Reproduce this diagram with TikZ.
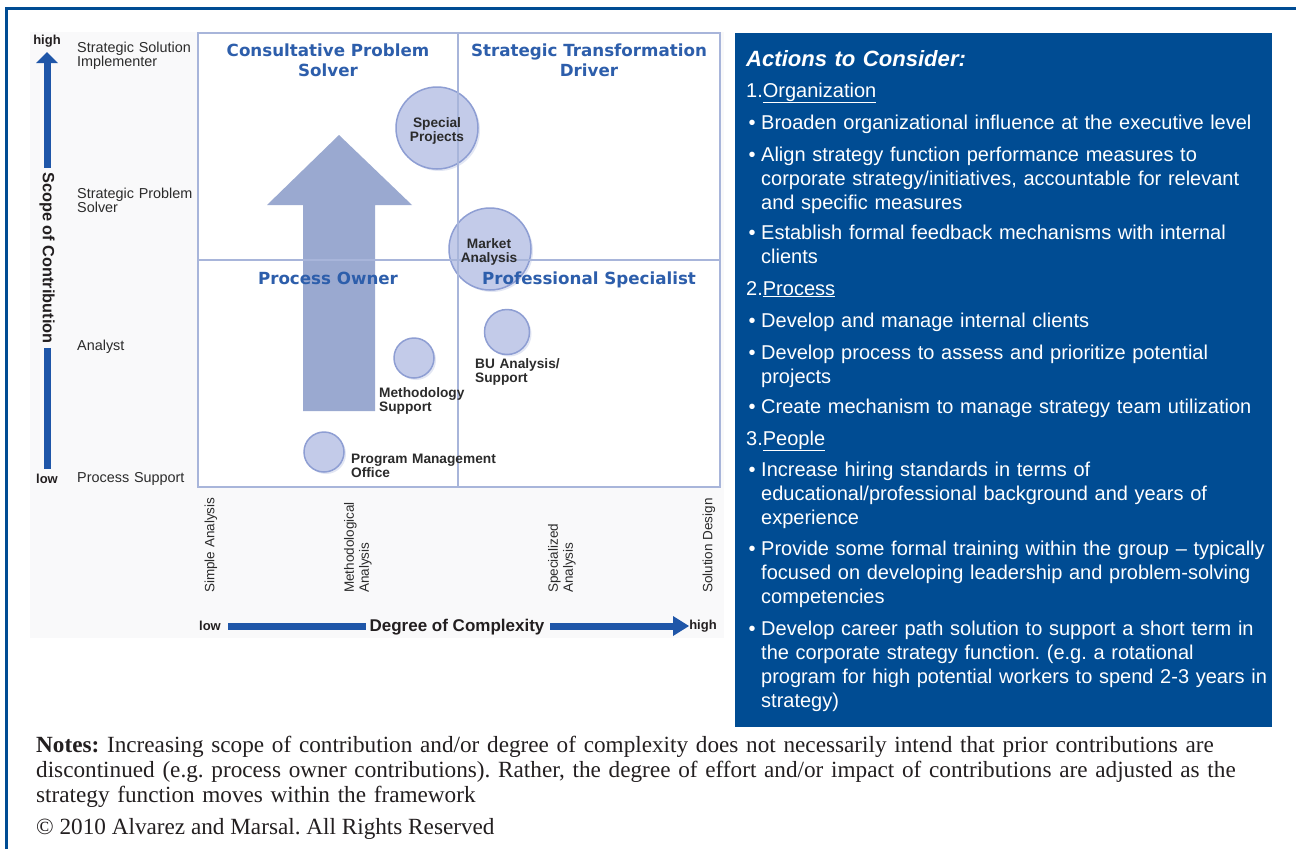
\documentclass[tikz,border=0pt]{standalone}
\usepackage{fontspec}
\setmainfont{Liberation Sans}
\newfontfamily\verd{DejaVu Sans}
\newfontfamily\tms{Liberation Serif}
\usetikzlibrary{shadows}
\definecolor{panel}{HTML}{004C93}
\definecolor{axisblue}{HTML}{1F56A8}
\definecolor{quadblue}{HTML}{2D5EAB}
\definecolor{gridc}{HTML}{A8B5DA}
\definecolor{bigarrow}{HTML}{9AA9D0}
\definecolor{bubfill}{HTML}{C3CBE9}
\definecolor{bubedge}{HTML}{8E9ED3}
\definecolor{txtgray}{HTML}{2B2B2B}
\definecolor{chartbg}{HTML}{F9F9FA}
\definecolor{notec}{HTML}{231F20}
\frenchspacing
\begin{document}
\begin{tikzpicture}[x=1pt,y=-1pt,
  lvl/.style={font=\fontsize{14.4}{14}\selectfont, text=txtgray, align=left, text width=130pt, anchor=base west, inner sep=0},
  quad/.style={font=\verd\bfseries\fontsize{16.7}{20}\selectfont, text=quadblue, align=center, inner sep=0},
  bubble/.style={circle, fill=bubfill, draw=bubedge, line width=1.5pt, inner sep=0,
     drop shadow={shadow xshift=2pt, shadow yshift=-2pt, opacity=0.25, fill=bubedge}},
  blab/.style={font=\bfseries\fontsize{13.7}{14}\selectfont, text=txtgray, align=left, inner sep=0},
  xlab/.style={font=\fontsize{13.5}{15}\selectfont, text=txtgray, rotate=90, anchor=west, align=left, inner sep=0},
  axl/.style={font=\bfseries\fontsize{13}{14}\selectfont, text=notec, inner sep=0},
  act/.style={font=\fontsize{20}{24}\selectfont\frenchspacing, text=white, align=left, text width=525pt, anchor=base west, inner sep=0},
  bul/.style={font=\fontsize{20}{24}\selectfont, text=white, anchor=base, inner sep=0},
  gridline/.style={draw=gridc, line width=2pt}
]
\useasboundingbox (0,0) rectangle (1296,849);
\fill[white] (0,0) rectangle (1296,849);
% outer frame
\draw[panel, line width=2.7pt] (6.5,849) -- (6.5,8.5) -- (1296,8.5);
% chart background
\fill[chartbg] (30,32) rectangle (724,638);
\fill[white] (198,33) rectangle (720,487);
% big arrow
\fill[bigarrow] (303,411) -- (303,205) -- (267,205) -- (339,135) -- (412,205) -- (375,205) -- (375,411) -- cycle;
% bubbles
\node[bubble, minimum size=82pt] (sp) at (437,128) {};
\node[bubble, minimum size=82pt] (ma) at (490,249) {};
\node[bubble, minimum size=45pt] (bu) at (507,332) {};
\node[bubble, minimum size=40pt] (ms) at (414,358) {};
\node[bubble, minimum size=40pt] (pm) at (324,452) {};
% grid
\draw[gridline] (198,33) rectangle (720,487);
\draw[gridline] (458,33) -- (458,487);
\draw[gridline] (198,260) -- (720,260);
% quadrant titles
\node[quad] (q1) at (328,60) {Consultative Problem\\Solver};
\node[quad] (q2) at (589,60) {Strategic Transformation\\Driver};
\node[quad, anchor=base] (q3) at (328,284) {Process Owner};
\node[quad, anchor=base] (q4) at (589,284) {Professional Specialist};
% bubble labels
\node[blab, align=center] (spl) at ([yshift=-3pt]sp.center) {Special\\Projects};
\node[blab, align=center] (mal) at ([xshift=-1pt,yshift=-3pt]ma.center) {Market\\Analysis};
\node[blab, text width=160pt, anchor=base west] (bul) at (475,368) {BU Analysis/\\Support};
\node[blab, text width=160pt, anchor=base west] (msl) at (379,397) {Methodology\\Support};
\node[blab, text width=160pt, anchor=base west] (pml) at (351,463) {Program Management\\Office};
% level labels
\node[lvl] (l1) at (77,52) {Strategic Solution\\Implementer};
\node[lvl] (l2) at (77,198) {Strategic Problem\\Solver};
\node[lvl] (l3) at (77,350) {Analyst};
\node[lvl] (l4) at (77,482) {Process Support};
% vertical axis
\node[axl] (yhigh) at (47,41) {high};
\node[axl] (ylow) at (47,479) {low};
\node[font=\bfseries\fontsize{16.3}{18}\selectfont, text=notec, rotate=-90, inner sep=0] (ytitle) at (47,258) {Scope of Contribution};
\fill[axisblue] (43.5,168) rectangle (50.5,62);
\fill[axisblue] (36,63) -- (47,52) -- (58,63) -- cycle;
\fill[axisblue] (43.5,348) rectangle (50.5,469);
% horizontal axis labels
\node[xlab] (x1) at (211,593) {Simple Analysis};
\node[xlab] (x2) at (358,593) {Methodological\\Analysis};
\node[xlab] (x3) at (562,593) {Specialized\\Analysis};
\node[xlab] (x4) at (709,593) {Solution Design};
% horizontal axis
\node[axl] (xlow) at (210,626) {low};
\node[font=\bfseries\fontsize{17}{18}\selectfont, text=notec, inner sep=0] (xtitle) at (457,627) {Degree of Complexity};
\node[axl] (xhigh) at (703,626) {high};
\fill[axisblue] (228,622.5) rectangle (366,629.5);
\fill[axisblue] (550,622.5) rectangle (674,629.5);
\fill[axisblue] (673,616) -- (689,626) -- (673,636) -- cycle;
% right panel
\fill[panel] (735,33) rectangle (1272,727);
\node[act, font=\bfseries\itshape\fontsize{22.1}{24}\selectfont] (ac) at (746,66) {Actions to Consider:};
\node[act] (h1) at (746,97) {1.\underline{Organization}};
\node[bul] at (752,129) {\textbullet};
\node[act] (a1) at (761,129) {Broaden organizational influence at the executive level};
\node[bul] at (752,161) {\textbullet};
\node[act] (a2) at (761,161) {Align strategy function performance measures to\\corporate strategy/initiatives, accountable for relevant\\and specific measures};
\node[bul] at (752,239) {\textbullet};
\node[act] (a3) at (761,239) {Establish formal feedback mechanisms with internal\\clients};
\node[act] (h2) at (746,295) {2.\underline{Process}};
\node[bul] at (752,327) {\textbullet};
\node[act] (b1) at (761,327) {Develop and manage internal clients};
\node[bul] at (752,359) {\textbullet};
\node[act] (b2) at (761,359) {Develop process to assess and prioritize potential\\projects};
\node[bul] at (752,413) {\textbullet};
\node[act] (b3) at (761,413) {Create mechanism to manage strategy team utilization};
\node[act] (h3) at (746,445) {3.\underline{People}};
\node[bul] at (752,476) {\textbullet};
\node[act] (c1) at (761,476) {Increase hiring standards in terms of\\educational/professional background and years of\\experience};
\node[bul] at (752,555) {\textbullet};
\node[act] (c2) at (761,555) {Provide some formal training within the group -- typically\\focused on developing leadership and problem-solving\\competencies};
\node[bul] at (752,635) {\textbullet};
\node[act] (c3) at (761,635) {Develop career path solution to support a short term in\\the corporate strategy function. (e.g. a rotational\\program for high potential workers to spend 2-3 years in\\strategy)};
% notes
\node[font=\tms\fontsize{23.2}{25}\selectfont\frenchspacing, text=notec, align=left, text width=1255pt, anchor=base west, inner sep=0] (notes) at (36,752)
  {\textbf{Notes:} Increasing scope of contribution and/or degree of complexity does not necessarily intend that prior contributions are\\discontinued (e.g. process owner contributions). Rather, the degree of effort and/or impact of contributions are adjusted as the\\strategy function moves within the framework};
\node[font=\tms\fontsize{23.2}{25}\selectfont, text=notec, anchor=base west, inner sep=0] (copy) at (36,834) {© 2010 Alvarez and Marsal. All Rights Reserved};
\end{tikzpicture}
\end{document}
